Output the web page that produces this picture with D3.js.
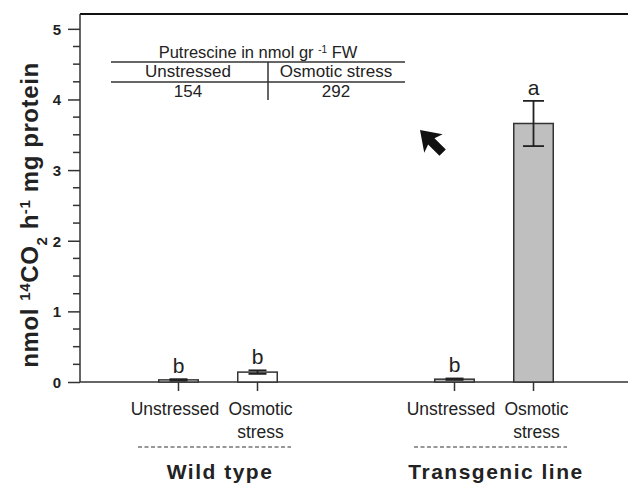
<!DOCTYPE html>
<html><head><meta charset="utf-8">
<script src="https://cdn.jsdelivr.net/npm/d3@7"></script>
<style>
html,body{margin:0;padding:0;background:#fff;}
text{font-family:"Liberation Sans",Arial,sans-serif;fill:#222;}
</style></head>
<body>
<svg id="chart" width="628" height="484"></svg>
<script>
// ---- data ----
const groups = ["Wild type", "Transgenic line"];
const conditions = ["Unstressed", "Osmotic stress"];
const wildTypeValues = [0.03, 0.14];
const wildTypeErrors = [0.01, 0.025];
const transgenicValues = [0.04, 3.66];
const transgenicErrors = [0.01, 0.32];
const wildTypeLetters = ["b", "b"];
const transgenicLetters = ["b", "a"];
const yTickValues = [0, 1, 2, 3, 4, 5];
const putrescineHeaders = ["Unstressed", "Osmotic stress"];
const putrescineValues = [154, 292];

const rows = [];
groups.forEach((g, gi) => {
  const vals = gi === 0 ? wildTypeValues : transgenicValues;
  const errs = gi === 0 ? wildTypeErrors : transgenicErrors;
  const lets = gi === 0 ? wildTypeLetters : transgenicLetters;
  conditions.forEach((c, ci) => rows.push({group: g, gi, ci, cond: c, value: vals[ci], err: errs[ci], letter: lets[ci]}));
});

const svg = d3.select("#chart");
const mLeft = 80, mRight = 628, mTop = 14, mBottom = 382;

const y = d3.scaleLinear().domain([0, 5.21]).range([mBottom, mTop]);
const xGroup = d3.scalePoint().domain(groups).range([mLeft, 632]).padding(0.5);
const xCond = d3.scaleBand().domain(conditions).range([-79, 79]).paddingInner(0.5).paddingOuter(0.25);
const cx = d => xGroup(d.group) + xCond(d.cond) + xCond.bandwidth() / 2;

// axes frame
svg.append("line").attr("x1", mLeft).attr("x2", mRight).attr("y1", mTop).attr("y2", mTop)
  .attr("stroke", "#111").attr("stroke-width", 2);
svg.append("line").attr("x1", mLeft).attr("x2", mRight).attr("y1", mBottom).attr("y2", mBottom)
  .attr("stroke", "#333").attr("stroke-width", 1.5);

// y axis
const yAxis = d3.axisLeft(y).tickValues(yTickValues).tickFormat(d3.format("d")).tickSize(12).tickSizeOuter(0);
const gy = svg.append("g").attr("transform", `translate(${mLeft},0)`).call(yAxis);
gy.select(".domain").attr("stroke", "#333").attr("stroke-width", 1.5).attr("d", `M0,${mTop}V${mBottom}`);
gy.selectAll(".tick line").attr("stroke", "#333").attr("stroke-width", 1.5);
gy.selectAll(".tick text").attr("x", -19).attr("dy", "0.36em")
  .style("font-size", "15px").style("font-weight", "bold").style("fill", "#222");
const minor = d3.range(0, 5.01, 0.25).filter(v => !yTickValues.includes(v));
svg.append("g").selectAll("line").data(minor).join("line")
  .attr("x1", mLeft - 7).attr("x2", mLeft).attr("y1", d => y(d)).attr("y2", d => y(d))
  .attr("stroke", "#333").attr("stroke-width", 1.5);

// y title
const yt = svg.append("text").attr("transform", "translate(38,215) rotate(-90)")
  .attr("text-anchor", "middle").style("font-size", "24px").style("font-weight", "bold")
  .style("letter-spacing", "0.6px");
yt.append("tspan").text("nmol ");
yt.append("tspan").text("14").attr("baseline-shift", "super").style("font-size", "15px");
yt.append("tspan").text("CO");
yt.append("tspan").text("2").attr("baseline-shift", "sub").style("font-size", "15px");
yt.append("tspan").text(" h");
yt.append("tspan").text("-1").attr("baseline-shift", "super").style("font-size", "15px");
yt.append("tspan").text(" mg protein");

// bars
svg.append("g").selectAll("rect").data(rows).join("rect")
  .attr("x", d => xGroup(d.group) + xCond(d.cond))
  .attr("width", xCond.bandwidth())
  .attr("y", d => y(d.value))
  .attr("height", d => y(0) - y(d.value))
  .attr("fill", d => d.gi === 0 ? "#ffffff" : "#bfbfbf")
  .attr("stroke", "#333").attr("stroke-width", 1.5);

// error bars
const eb = svg.append("g").attr("stroke", "#222").attr("stroke-width", 1.8);
rows.forEach(d => {
  const x0 = cx(d), hw = d.err > 0.1 ? 10.5 : 9;
  eb.append("line").attr("x1", x0).attr("x2", x0).attr("y1", y(d.value + d.err)).attr("y2", y(d.value - d.err));
  eb.append("line").attr("x1", x0 - hw).attr("x2", x0 + hw).attr("y1", y(d.value + d.err)).attr("y2", y(d.value + d.err));
  eb.append("line").attr("x1", x0 - hw).attr("x2", x0 + hw).attr("y1", y(d.value - d.err)).attr("y2", y(d.value - d.err));
});

// significance letters
svg.append("g").selectAll("text").data(rows).join("text")
  .attr("x", cx).attr("y", d => y(d.value + d.err) - 6)
  .attr("text-anchor", "middle").style("font-size", "21px").text(d => d.letter);

// x ticks
svg.append("g").selectAll("line").data(rows).join("line")
  .attr("x1", cx).attr("x2", cx).attr("y1", mBottom).attr("y2", mBottom + 9)
  .attr("stroke", "#333").attr("stroke-width", 1.5);

// condition labels
const cl = svg.append("g").selectAll("text").data(rows).join("text")
  .attr("y", 415).attr("text-anchor", "middle").style("font-size", "17.5px");
cl.each(function(d) {
  const words = d.cond.split(" ");
  const t = d3.select(this);
  const lx = cx(d) + (d.ci === 0 ? -3.5 : 3);
  words.forEach((w, i) => t.append("tspan").attr("x", lx).attr("dy", i === 0 ? 0 : 23).text(w));
});

// dashed group lines and group labels
svg.append("g").selectAll("line").data(groups).join("line")
  .attr("x1", g => xGroup(g) - 80).attr("x2", g => xGroup(g) + 73)
  .attr("y1", 447).attr("y2", 447)
  .attr("stroke", "#333").attr("stroke-width", 1.2).attr("stroke-dasharray", "4,2.5");
svg.append("g").selectAll("text").data(groups).join("text")
  .attr("x", g => xGroup(g) + 2).attr("y", 479).attr("text-anchor", "middle")
  .style("font-size", "21px").style("font-weight", "bold").style("letter-spacing", "1.5px")
  .text(g => g);

// inset table
const tbl = svg.append("g");
const tx0 = 111, tx1 = 405, tDiv = 268;
const colX = d3.scalePoint().domain(putrescineHeaders).range([188, 336]);
const tt = tbl.append("text").attr("x", 258).attr("y", 58).attr("text-anchor", "middle").style("font-size", "16.5px");
tt.append("tspan").text("Putrescine in nmol gr ");
tt.append("tspan").text("-1").attr("baseline-shift", "super").style("font-size", "10px");
tt.append("tspan").text(" FW");
[62, 82].forEach(yy => tbl.append("line").attr("x1", tx0).attr("x2", tx1).attr("y1", yy).attr("y2", yy)
  .attr("stroke", "#333").attr("stroke-width", 1.5));
tbl.append("line").attr("x1", tDiv).attr("x2", tDiv).attr("y1", 62).attr("y2", 100).attr("stroke", "#333").attr("stroke-width", 1.5);
tbl.selectAll("text.h").data(putrescineHeaders).join("text").attr("class", "h")
  .attr("x", d => colX(d)).attr("y", 77).attr("text-anchor", "middle").style("font-size", "17px").text(d => d);
tbl.selectAll("text.v").data(putrescineValues).join("text").attr("class", "v")
  .attr("x", (d, i) => colX(putrescineHeaders[i])).attr("y", 97).attr("text-anchor", "middle").style("font-size", "17px").text(d => d);

// arrow pointer
svg.append("path").attr("transform", "translate(420,130) rotate(-45)")
  .attr("d", "M0,0 L13,19 L4.5,16 L4.5,32 L-4.5,32 L-4.5,16 L-13,19 Z")
  .attr("fill", "#111");
</script>
</body></html>
